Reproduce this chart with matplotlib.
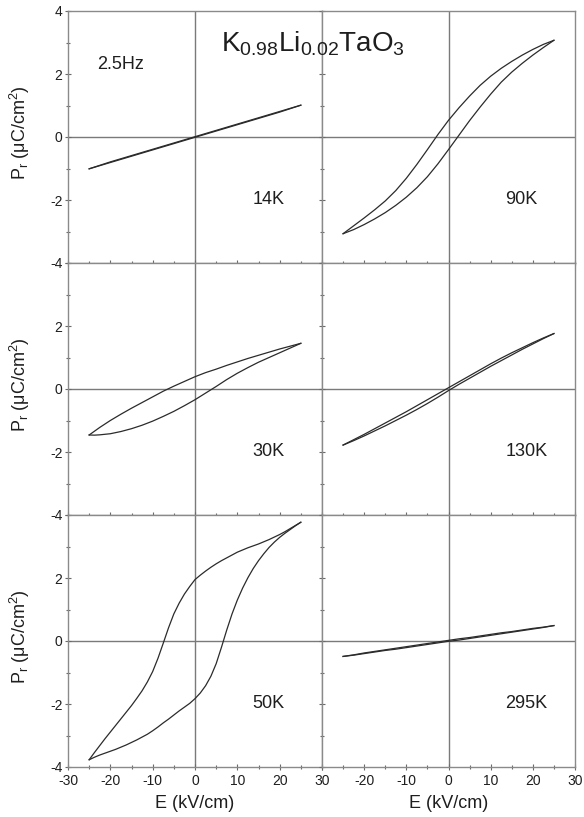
import matplotlib
matplotlib.use("Agg")
import matplotlib.pyplot as plt
from matplotlib.ticker import MultipleLocator

plt.rcParams["font.family"] = ["Liberation Sans", "DejaVu Sans"]
plt.rcParams["mathtext.fontset"] = "custom"
plt.rcParams["mathtext.rm"] = "Liberation Sans"
plt.rcParams["mathtext.it"] = "Liberation Sans:italic"
plt.rcParams["mathtext.default"] = "regular"
plt.rcParams["axes.unicode_minus"] = False

# Field sweep (kV/cm): falling branch runs +25 -> -25, rising branch -25 -> +25
E_fall = [25, 22.5, 20, 17.5, 15, 12.5, 10, 7.5, 5, 2.5, 0,
          -2.5, -5, -7.5, -10, -12.5, -15, -17.5, -20, -22.5, -25]
E_rise = [-25, -22.5, -20, -17.5, -15, -12.5, -10, -7.5, -5, -2.5, 0,
          2.5, 5, 7.5, 10, 12.5, 15, 17.5, 20, 22.5, 25]
# finer sweep used for the wide 50 K loop
E_fall_fine = [25, 23.75, 22.5, 21.25, 20, 18.75, 17.5, 16.25, 15, 13.75, 12.5,
               11.25, 10, 8.75, 7.5, 6.25, 5, 3.75, 2.5, 1.25, 0,
               -1.25, -2.5, -3.75, -5, -6.25, -7.5, -8.75, -10, -11.25, -12.5,
               -13.75, -15, -16.25, -17.5, -18.75, -20, -21.25, -22.5, -23.75, -25]
E_rise_fine = [-25, -23.75, -22.5, -21.25, -20, -18.75, -17.5, -16.25, -15, -13.75, -12.5,
               -11.25, -10, -8.75, -7.5, -6.25, -5, -3.75, -2.5, -1.25, 0,
               1.25, 2.5, 3.75, 5, 6.25, 7.5, 8.75, 10, 11.25, 12.5,
               13.75, 15, 16.25, 17.5, 18.75, 20, 21.25, 22.5, 23.75, 25]
# finer sweep near the tip of the 30 K loop
E_rise_30 = [-25, -23.75, -22.5, -20, -17.5, -15, -12.5, -10, -7.5, -5, -2.5, 0,
             2.5, 5, 7.5, 10, 12.5, 15, 17.5, 20, 22.5, 25]

# Polarisation (uC/cm^2) for each temperature, falling / rising branch
P14_fall = [1.01, 0.91, 0.81, 0.71, 0.61, 0.51, 0.41, 0.31, 0.21, 0.11, 0.01,
            -0.09, -0.19, -0.29, -0.39, -0.49, -0.59, -0.69, -0.79, -0.90, -1.01]
P14_rise = [-1.01, -0.91, -0.81, -0.71, -0.61, -0.51, -0.41, -0.31, -0.21, -0.11, -0.01,
            0.09, 0.19, 0.29, 0.39, 0.49, 0.59, 0.69, 0.79, 0.90, 1.01]

P30_fall = [1.45, 1.36, 1.27, 1.17, 1.07, 0.97, 0.86, 0.75, 0.63, 0.52, 0.39,
            0.24, 0.09, -0.07, -0.25, -0.43, -0.61, -0.80, -1.00, -1.22, -1.46]
P30_rise = [-1.46, -1.465, -1.455, -1.42, -1.35, -1.26, -1.15, -1.02, -0.87, -0.71, -0.53, -0.34,
            -0.13, 0.08, 0.30, 0.50, 0.68, 0.85, 1.00, 1.15, 1.30, 1.45]

P50_fall = [3.77, 3.67, 3.57, 3.47, 3.38, 3.30, 3.22, 3.15, 3.08, 3.02, 2.96,
            2.89, 2.82, 2.73, 2.64, 2.55, 2.45, 2.34, 2.22, 2.09, 1.95,
            1.73, 1.49, 1.20, 0.86, 0.42, -0.07, -0.55, -0.97, -1.30, -1.58,
            -1.82, -2.05, -2.26, -2.47, -2.68, -2.89, -3.10, -3.32, -3.54, -3.77]
P50_rise = [-3.77, -3.69, -3.62, -3.56, -3.50, -3.44, -3.37, -3.30, -3.22, -3.14, -3.05,
            -2.96, -2.85, -2.73, -2.60, -2.48, -2.35, -2.22, -2.10, -1.98, -1.83,
            -1.65, -1.42, -1.12, -0.72, -0.20, 0.35, 0.86, 1.30, 1.68, 2.01,
            2.30, 2.55, 2.77, 2.97, 3.14, 3.29, 3.42, 3.54, 3.66, 3.77]

P90_fall = [3.07, 2.94, 2.78, 2.60, 2.40, 2.18, 1.93, 1.64, 1.30, 0.93, 0.53,
            0.08, -0.40, -0.87, -1.31, -1.70, -2.03, -2.31, -2.57, -2.82, -3.07]
P90_rise = [-3.07, -2.94, -2.78, -2.60, -2.40, -2.17, -1.91, -1.61, -1.26, -0.85, -0.40,
            0.06, 0.52, 0.95, 1.36, 1.74, 2.06, 2.34, 2.60, 2.84, 3.07]

P130_fall = [1.76, 1.62, 1.47, 1.31, 1.15, 0.98, 0.80, 0.61, 0.42, 0.23, 0.04,
             -0.15, -0.34, -0.53, -0.72, -0.90, -1.08, -1.26, -1.44, -1.61, -1.78]
P130_rise = [-1.78, -1.64, -1.49, -1.33, -1.17, -1.00, -0.83, -0.65, -0.46, -0.26, -0.05,
             0.15, 0.34, 0.53, 0.72, 0.90, 1.08, 1.26, 1.43, 1.60, 1.76]

P295_fall = [0.49, 0.44, 0.40, 0.35, 0.30, 0.26, 0.21, 0.16, 0.11, 0.07, 0.02,
             -0.03, -0.08, -0.13, -0.18, -0.23, -0.28, -0.33, -0.38, -0.44, -0.49]
P295_rise = [-0.49, -0.45, -0.40, -0.35, -0.30, -0.26, -0.21, -0.16, -0.11, -0.06, -0.01,
             0.03, 0.08, 0.13, 0.18, 0.23, 0.28, 0.33, 0.38, 0.43, 0.49]

temps = ["14K", "90K", "30K", "130K", "50K", "295K"]
loops = [((E_fall, P14_fall), (E_rise, P14_rise)),
         ((E_fall, P90_fall), (E_rise, P90_rise)),
         ((E_fall, P30_fall), (E_rise_30, P30_rise)),
         ((E_fall, P130_fall), (E_rise, P130_rise)),
         ((E_fall_fine, P50_fall), (E_rise_fine, P50_rise)),
         ((E_fall, P295_fall), (E_rise, P295_rise))]

W, H = 584, 817
fig = plt.figure(figsize=(W / 100, H / 100), dpi=100)

col_x = [68, 322, 575]
row_y = [11, 263, 515, 767]
line_c = "#2b2b2b"
frame_c = "#8a8a8a"
text_c = "#1e1e1e"

axes = []
for k in range(6):
    r, c = divmod(k, 2)
    x0, x1 = col_x[c], col_x[c + 1]
    y0, y1 = row_y[r], row_y[r + 1]
    ax = fig.add_axes([x0 / W, 1 - y1 / H, (x1 - x0) / W, (y1 - y0) / H])
    ax.set_xlim(-30, 30)
    ax.set_ylim(-4, 4)
    ax.axhline(0, color="#7a7a7a", lw=1.0, zorder=1)
    ax.axvline(0, color="#7a7a7a", lw=1.0, zorder=1)
    for e_vals, p_vals in loops[k]:
        ax.plot(e_vals, p_vals, color=line_c, lw=0.9, zorder=3)
    ax.text(13.5, -2.0, temps[k], fontsize=13, color=text_c, ha="left", va="center")

    for s in ax.spines.values():
        s.set_color(frame_c)
        s.set_linewidth(1.0)
    ax.xaxis.set_major_locator(MultipleLocator(10))
    ax.xaxis.set_minor_locator(MultipleLocator(5))
    ax.set_yticks([-4, -2, 0, 2, 4])
    ax.yaxis.set_minor_locator(MultipleLocator(1))
    ax.tick_params(which="both", direction="inout", top=False, right=False,
                   color="#6a6a6a", width=0.8, labelsize=10, labelcolor=text_c)
    ax.tick_params(which="major", length=4, pad=2)
    ax.tick_params(which="minor", length=2.5)

    if c == 0:
        ylabels = ["-4", "-2", "0", "2", "4" if r == 0 else ""]
        ax.set_yticklabels(ylabels)
    else:
        ax.set_yticklabels([])
    if r == 2:
        xt = [-30, -20, -10, 0, 10, 20, 30]
        ax.set_xticks(xt)
        ax.set_xticklabels(["" if (c == 1 and v == -30) else str(v) for v in xt])
        ax.tick_params(axis="x", pad=3)
    else:
        ax.set_xticklabels([])
    axes.append(ax)

axes[0].text(-23.2, 2.3, "2.5Hz", fontsize=13, color=text_c, ha="left", va="center")

for r in range(3):
    yc = (row_y[r] + row_y[r + 1]) / 2 - 4
    fig.text(20 / W, 1 - yc / H, r"P$_{r}$ (μC/cm$^{2}$)", rotation=90,
             ha="center", va="center", fontsize=13, color=text_c)

for c in range(2):
    xc = col_x[c] + (col_x[c + 1] - col_x[c]) / 2
    fig.text(xc / W, 1 - 803 / H, "E (kV/cm)", ha="center", va="center",
             fontsize=13, color=text_c)

fig.text(313 / W, 1 - 44 / H, r"K$_{0.98}$Li$_{0.02}$TaO$_{3}$", ha="center",
         va="center", fontsize=20, color=text_c)

fig.savefig("out.png", dpi=100)
